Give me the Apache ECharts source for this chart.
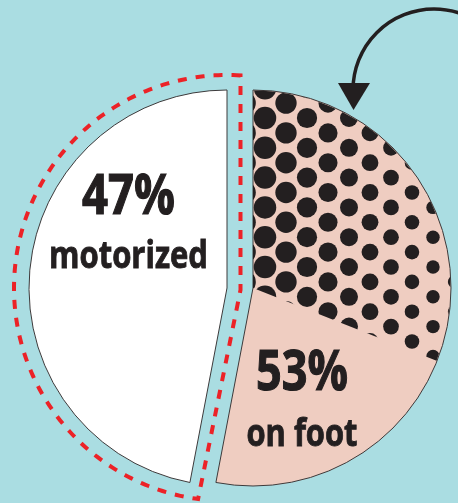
<!DOCTYPE html>
<html>
<head>
<meta charset="utf-8">
<script src="https://cdn.jsdelivr.net/npm/echarts@6/dist/echarts.min.js"></script>
<style>
  html, body { margin: 0; padding: 0; background: #aadde2; }
  #chart { width: 458px; height: 503px; }
</style>
</head>
<body>
<div id="chart"></div>
<script>
// Trip shares by mode
const categories = ['on foot', 'motorized'];
const shares = [53, 47];
// Portion of the circle (from 12 o'clock) covered by the halftone
const halftoneShare = [31, 69];

const INK = '#231f20';
const PINK = '#efcdc1';
const EDGE = '#3d3a3b';
const FONT = '"Open Sans", "Liberation Sans", sans-serif';

const R = 198;
const footCenter = [253, 288];
const motorCenter = [227, 288];

// Where each slice's caption sits: centre x, baselines, sizes and set widths
const captionLayout = [
  { x: 302, pctBase: 393, nameBase: 448, pctSize: 56, nameSize: 38, pctW: 92, nameW: 111 },
  { x: 128.5, pctBase: 217, nameBase: 270, pctSize: 56, nameSize: 38, pctW: 93, nameW: 159 }
];

// Halftone texture: hex grid of dots shrinking from left to right
function halftone(w, h) {
  const cv = document.createElement('canvas');
  cv.width = w; cv.height = h;
  const ctx = cv.getContext('2d');
  ctx.fillStyle = INK;
  const dx = 21, dy = 29.8;
  for (let k = -2; k <= 12; k++) {
    const x = 265 + dx * k;
    const d = Math.max(8, 22.5 - (x - 265) * 0.054);
    const y0 = 118 - ((k & 1) ? dy / 2 : 0);
    for (let y = y0 - dy * 5; y < h + dy; y += dy) {
      ctx.beginPath();
      ctx.arc(x, y, d / 2, 0, Math.PI * 2);
      ctx.fill();
    }
  }
  return cv;
}

function sliceSeries(center, shown) {
  return {
    type: 'pie',
    center: center,
    radius: R,
    startAngle: 90,
    clockwise: true,
    silent: true,
    emphasis: { disabled: true },
    label: { show: false },
    labelLine: { show: false },
    data: categories.map(function (name, i) {
      const on = i === shown;
      return {
        name: name,
        value: shares[i],
        itemStyle: on
          ? { color: i === 0 ? PINK : '#ffffff', borderColor: EDGE, borderWidth: 1 }
          : { color: 'none', borderWidth: 0 }
      };
    })
  };
}

// Dashed outline around the motorized slice
function outlinePoints() {
  const total = shares.reduce(function (a, b) { return a + b; }, 0);
  const edgeDeg = shares[0] / total * 360;
  const RO = 213, side = 13.5;
  const cx = motorCenter[0], cy = motorCenter[1];
  const topDeg = 360 + Math.asin(side / RO) * 180 / Math.PI;
  const botDeg = edgeDeg - 3;
  const pts = [];
  for (let a = topDeg; a >= botDeg; a -= 1) {
    const t = a * Math.PI / 180;
    pts.push([cx + RO * Math.sin(t), cy - RO * Math.cos(t)]);
  }
  const tb = botDeg * Math.PI / 180;
  pts.push([cx + RO * Math.sin(tb), cy - RO * Math.cos(tb)]);
  pts.push([cx + side, cy + 2]);
  return pts;
}

// Condensed captions: measure the bold face and squeeze it to the set width
const measureCtx = document.createElement('canvas').getContext('2d');
function caption(text, size, width, x, base, weight) {
  const font = 'bold ' + size + 'px ' + FONT;
  measureCtx.font = font;
  const w = measureCtx.measureText(text).width;
  return {
    type: 'text',
    silent: true,
    z: 100,
    x: x,
    y: base - 0.34 * size,
    scaleX: width / w,
    style: {
      text: text,
      x: 0,
      y: 0,
      font: font,
      fill: INK,
      stroke: INK,
      lineWidth: weight,
      align: 'center',
      verticalAlign: 'middle'
    }
  };
}

const captions = [];
categories.forEach(function (name, i) {
  const L = captionLayout[i];
  captions.push(caption(shares[i] + '%', L.pctSize, L.pctW, L.x, L.pctBase, 1.2));
  captions.push(caption(name, L.nameSize, L.nameW, L.x, L.nameBase, 0.9));
});

const chart = echarts.init(document.getElementById('chart'), null, { renderer: 'canvas' });
chart.setOption({
  backgroundColor: '#aadde2',
  animation: false,
  series: [
    sliceSeries(footCenter, 0),
    {
      type: 'pie',
      center: footCenter,
      radius: R - 0.6,
      startAngle: 90,
      clockwise: true,
      silent: true,
      emphasis: { disabled: true },
      label: { show: false },
      labelLine: { show: false },
      data: [
        { name: 'halftone', value: halftoneShare[0], itemStyle: { color: { image: halftone(458, 503), repeat: 'no-repeat' }, borderWidth: 0 } },
        { name: 'rest', value: halftoneShare[1], itemStyle: { color: 'none', borderWidth: 0 } }
      ]
    },
    sliceSeries(motorCenter, 1)
  ],
  graphic: [
    {
      type: 'polygon',
      silent: true,
      z: 100,
      shape: { points: outlinePoints() },
      style: { fill: 'none', stroke: '#ec2227', lineWidth: 4, lineDash: [9, 9] }
    },
    {
      type: 'arc',
      silent: true,
      z: 100,
      shape: { cx: 434, cy: 90, r: 81, startAngle: Math.PI, endAngle: Math.PI * 2 - 1.2, clockwise: true },
      style: { fill: 'none', stroke: INK, lineWidth: 3.5 }
    },
    {
      type: 'polygon',
      silent: true,
      z: 100,
      shape: { points: [[338, 83], [370, 83], [353.5, 110]] },
      style: { fill: INK }
    }
  ].concat(captions)
});
</script>
</body>
</html>
